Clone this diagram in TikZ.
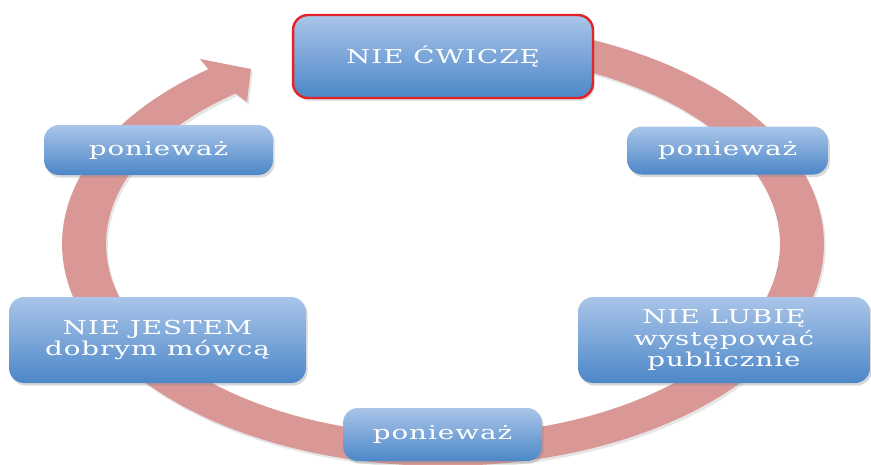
\documentclass[tikz,border=0pt]{standalone}
\usepackage{fontspec}
\newfontfamily\boxfont[FakeStretch=1.45, LetterSpace=5]{DejaVu Serif}
\usetikzlibrary{shadows}
\definecolor{bandpink}{RGB}{217,152,150}
\definecolor{boxtop}{RGB}{170,197,233}
\definecolor{boxbottom}{RGB}{76,135,200}
\definecolor{alarmred}{RGB}{226,35,40}

\begin{document}
\begin{tikzpicture}[
    x=0.02cm, y=-0.02cm,
    band/.style={fill=bandpink, drop shadow={opacity=0.2, shadow xshift=1pt, shadow yshift=-1.5pt}},
    stepbox/.style={rectangle, rounded corners=0.3cm, top color=boxtop, bottom color=boxbottom, text=white, align=center, inner sep=0pt, font=\boxfont\fontsize{10.9}{12}\selectfont, drop shadow={opacity=0.3, shadow xshift=1pt, shadow yshift=-1.5pt}},
    because/.style={stepbox, minimum height=0.96cm}
  ]
    \useasboundingbox (0,0) rectangle (871,464);

    % Cycle arrow
    \fill[band] plot[domain=-100:232, samples=150] ({443+381*cos(\x)}, {244+222*sin(\x)})
      -- (200,59) -- (251,69) -- (247,102)
      -- plot[domain=232:-100, samples=150] ({443+337*cos(\x)}, {244+191*sin(\x)}) -- cycle;

    % Statements
    \node[stepbox, draw=alarmred, line width=1.4pt, minimum width=6cm, minimum height=1.66cm] (cwicze) at (443,56.5) {NIE ĆWICZĘ};
    \node[stepbox, minimum width=5.84cm, minimum height=1.72cm] (lubie) at (724,340) {NIE LUBIĘ\\występować\\publicznie};
    \node[stepbox, minimum width=5.94cm, minimum height=1.72cm] (jestem) at (157.5,340) {NIE JESTEM\\dobrym mówcą};

    % Links
    \node[because, minimum width=4.02cm] (ponR) at (727.5,150.5) {ponieważ};
    \node[because, minimum width=3.98cm, minimum height=1.06cm] (ponB) at (442.5,434.5) {ponieważ};
    \node[because, minimum width=4.58cm, minimum height=1cm] (ponL) at (158.5,150) {ponieważ};
\end{tikzpicture}
\end{document}
